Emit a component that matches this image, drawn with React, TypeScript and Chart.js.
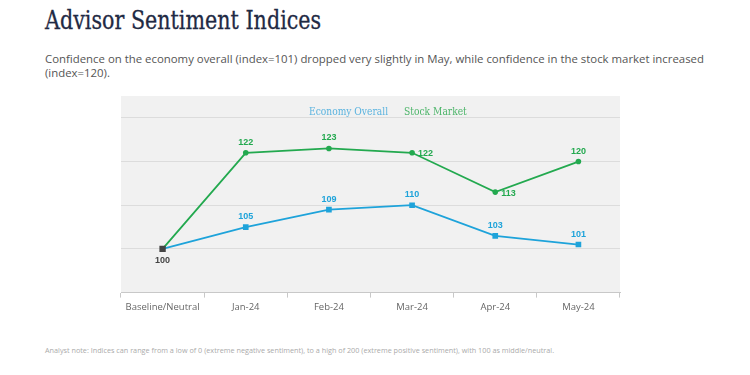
import React, { useEffect, useRef } from "react";
import { Chart, registerables } from "chart.js";

Chart.register(...registerables);

const categories = ["Baseline/Neutral", "Jan-24", "Feb-24", "Mar-24", "Apr-24", "May-24"];
const economyValues = [100, 105, 109, 110, 103, 101];
const stockValues = [100, 122, 123, 122, 113, 120];
const seriesNames = ["Economy Overall", "Stock Market"];
const yTicks = [90, 100, 110, 120, 130];
// where each label sits relative to its point
const economyLabelPos = ["below", "above", "above", "above", "above", "above"];
const stockLabelPos = ["none", "above", "above", "right", "right", "above"];

const BLUE = "#1ea3da";
const GREEN = "#23a94f";
const DARK = "#444444";

const bgPlugin = {
  id: "bgPlugin",
  beforeDraw(chart: any) {
    const { ctx, chartArea } = chart;
    ctx.save();
    ctx.fillStyle = "#f1f1f1";
    ctx.fillRect(chartArea.left, chartArea.top, chartArea.right - chartArea.left, chartArea.bottom - chartArea.top);
    ctx.restore();
  },
};

const legendPlugin = {
  id: "textLegend",
  afterDraw(chart: any) {
    const { ctx, chartArea } = chart;
    ctx.save();
    ctx.font = "11px 'DejaVu Serif'";
    ctx.textBaseline = "middle";
    const colors = ["#5ab3df", "#4db56a"];
    const sx = 0.83;
    const gap = 16;
    const widths = seriesNames.map((n) => ctx.measureText(n).width * sx);
    let x = chartArea.left + 188;
    const y = chartArea.top + 16;
    seriesNames.forEach((n, i) => {
      ctx.save();
      ctx.translate(x, y);
      ctx.scale(sx, 1);
      ctx.fillStyle = colors[i];
      ctx.textAlign = "left";
      ctx.fillText(n, 0, 0);
      ctx.restore();
      x += widths[i] + gap;
    });
    ctx.restore();
  },
};

const labelPlugin = {
  id: "pointLabels",
  afterDatasetsDraw(chart: any) {
    const { ctx } = chart;
    ctx.save();
    ctx.font = "bold 9px 'Liberation Sans', Arial";
    const cfg = [
      { pos: economyLabelPos, color: BLUE },
      { pos: stockLabelPos, color: GREEN },
    ];
    chart.data.datasets.forEach((ds: any, di: number) => {
      const meta = chart.getDatasetMeta(di);
      meta.data.forEach((pt: any, i: number) => {
        const p = cfg[di].pos[i];
        if (p === "none") return;
        const v = ds.data[i];
        ctx.fillStyle = i === 0 ? DARK : cfg[di].color;
        if (p === "above") {
          ctx.textAlign = "center";
          ctx.textBaseline = "bottom";
          ctx.fillText(String(v), pt.x, pt.y - 6);
        } else if (p === "below") {
          ctx.textAlign = "center";
          ctx.textBaseline = "top";
          ctx.fillText(String(v), pt.x, pt.y + 7);
        } else {
          ctx.textAlign = "left";
          ctx.textBaseline = "middle";
          ctx.fillText(String(v), pt.x + 6, pt.y + 1);
        }
      });
    });
    ctx.restore();
  },
};

function ChartBox() {
  const ref = useRef<HTMLCanvasElement | null>(null);
  useEffect(() => {
    if (!ref.current) return;
    const chart = new Chart(ref.current, {
      type: "line",
      data: {
        labels: categories,
        datasets: [
          {
            label: seriesNames[0],
            data: economyValues,
            borderColor: BLUE,
            backgroundColor: economyValues.map((_, i) => (i === 0 ? DARK : BLUE)),
            pointBackgroundColor: economyValues.map((_, i) => (i === 0 ? DARK : BLUE)),
            pointBorderColor: economyValues.map((_, i) => (i === 0 ? DARK : BLUE)),
            pointBorderWidth: 0,
            pointStyle: "rect",
            pointRadius: economyValues.map((_, i) => (i === 0 ? 4.5 : 4)),
            borderWidth: 1.8,
            tension: 0,
          },
          {
            label: seriesNames[1],
            data: stockValues,
            borderColor: GREEN,
            backgroundColor: GREEN,
            pointBackgroundColor: GREEN,
            pointBorderColor: GREEN,
            pointBorderWidth: 0,
            pointStyle: "circle",
            pointRadius: stockValues.map((_, i) => (i === 0 ? 0 : 2.8)),
            borderWidth: 1.8,
            tension: 0,
          },
        ],
      },
      options: {
        animation: false,
        responsive: false,
        maintainAspectRatio: false,
        layout: { padding: { left: 11, right: 20, top: 16, bottom: 0 } },
        plugins: {
          legend: { display: false },
          tooltip: { enabled: false },
        },
        scales: {
          x: {
            offset: true,
            grid: {
              display: true,
              drawOnChartArea: false,
              drawTicks: true,
              tickLength: 5,
              color: "#c8c8c8",
              offset: true,
            },
            border: { display: true, color: "#c8c8c8" },
            ticks: {
              color: "#666666",
              font: { family: "'Open Sans'", size: 9.5 },
              padding: 4,
              maxRotation: 0,
              autoSkip: false,
            },
          },
          y: {
            min: 90,
            max: 135,
            afterBuildTicks(axis: any) {
              axis.ticks = yTicks.map((v) => ({ value: v }));
            },
            ticks: { display: false },
            border: { display: false },
            grid: { color: "#dcdcdc", drawTicks: false, tickLength: 0, lineWidth: 1 },
          },
        },
      },
      plugins: [bgPlugin, legendPlugin, labelPlugin],
    });
    return () => chart.destroy();
  }, []);
  return <canvas ref={ref} width={530} height={237} style={{ position: "absolute", left: 110, top: 80, width: 530, height: 237 }} />;
}

export default function App() {
  return (
    <div style={{ position: "absolute", left: 0, top: 0, width: 750, height: 375, background: "#fff", overflow: "hidden" }}>
      <div
        style={{
          position: "absolute",
          left: 45,
          top: 5,
          fontFamily: "'DejaVu Serif'",
          fontSize: 25.5,
          color: "#1f2a44",
          whiteSpace: "nowrap",
          transform: "scaleX(0.81)",
          transformOrigin: "left top",
          WebkitTextStroke: "0.3px #1f2a44",
        }}
      >
        Advisor Sentiment Indices
      </div>
      <div
        style={{
          position: "absolute",
          left: 45,
          top: 52,
          width: 690,
          fontFamily: "'Open Sans'",
          fontSize: 11.4,
          lineHeight: "14px",
          color: "#555",
        }}
      >
        Confidence on the economy overall (index=101) dropped very slightly in May, while confidence in the stock market increased (index=120).
      </div>
      <ChartBox />
      <div
        style={{
          position: "absolute",
          left: 45,
          top: 345,
          fontFamily: "'Open Sans'",
          fontSize: 7.25,
          color: "#aaa",
          whiteSpace: "nowrap",
        }}
      >
        Analyst note: Indices can range from a low of 0 (extreme negative sentiment), to a high of 200 (extreme positive sentiment), with 100 as middle/neutral.
      </div>
    </div>
  );
}
